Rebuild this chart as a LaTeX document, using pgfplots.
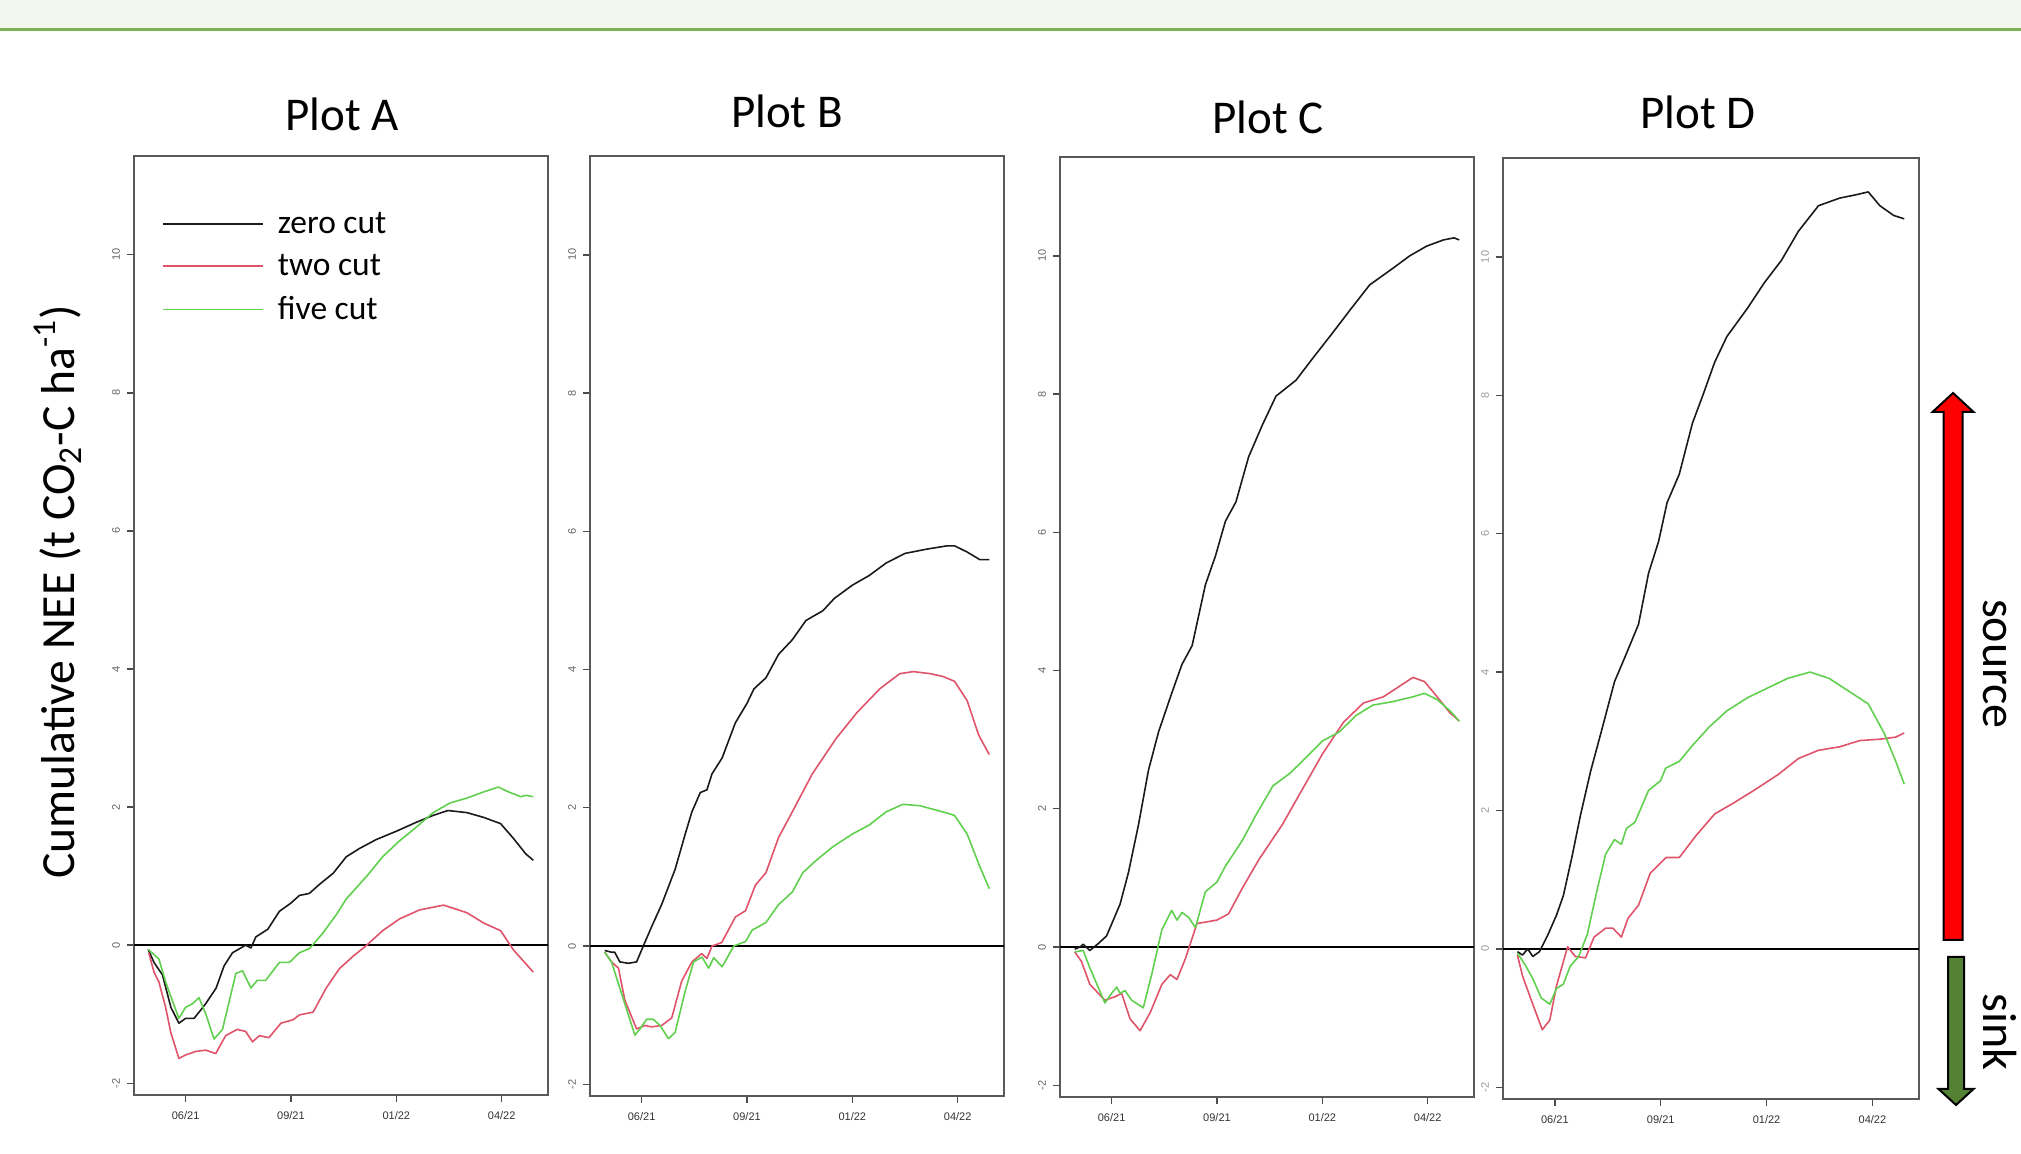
\documentclass[border=0pt]{standalone}
\usepackage{fontspec}
\setmainfont{Carlito}
\newfontfamily\tickfont{Liberation Sans}
\usepackage{pgfplots}
\pgfplotsset{compat=1.18}
\definecolor{zerocut}{HTML}{1A1A1A}
\definecolor{twocut}{HTML}{DF536B}
\definecolor{fivecut}{HTML}{61D04F}
\definecolor{bandgreen}{HTML}{F2F8EE}
\definecolor{rulegreen}{HTML}{7AB257}
\definecolor{sinkgreen}{HTML}{548235}

% x: 0 = 06/21, 1 = 09/21, 2 = 01/22, 3 = 04/22 (equally spaced ticks)
\pgfplotsset{
  nee panel/.style={
    scale only axis,
    anchor=south west,
    xmin=-0.49, xmax=3.44,
    ymin=-2.17, ymax=11.43,
    xtick={0,1,2,3},
    xticklabels={06/21,09/21,01/22,04/22},
    ytick={-2,0,2,4,6,8,10},
    yticklabels={-2,0,2,4,6,8,10},
    tick pos=left,
    tick align=outside,
    major tick length=3.5pt,
    axis line style={draw=black!65, line width=0.9pt},
    tick style={draw=black!70, line width=0.7pt},
    xticklabel style={font=\tickfont\fontsize{5.5}{6}\selectfont, text=black!80, yshift=-1pt},
    yticklabel style={font=\tickfont\fontsize{5.5}{6}\selectfont, text=black!60, rotate=90, anchor=south},
    every axis plot/.append style={line width=0.8pt, line join=round},
  },
  zero/.style={draw=zerocut},
  two/.style={draw=twocut},
  five/.style={draw=fivecut},
}
\newcommand{\zeroline}{\addplot[black, line width=0.7pt, forget plot] coordinates {(-0.6,0) (3.6,0)};}

\begin{document}
\begin{tikzpicture}
\path[use as bounding box] (0pt,0pt) rectangle (1010.5pt,577pt);
\fill[white] (0pt,0pt) rectangle (1010.5pt,577pt);
\fill[bandgreen] (0pt,562.5pt) rectangle (1010.5pt,577pt);
\draw[rulegreen, line width=1.5pt] (0pt,562pt) -- (1010.5pt,562pt);

% ---------------- Plot A
\begin{axis}[nee panel, at={(67pt,29.5pt)}, width=207pt, height=469.5pt,
  legend style={draw=none, fill=none, at={(0.068,0.945)}, anchor=north west,
    font=\fontsize{16.75}{20}\selectfont, inner sep=0pt, column sep=4.8pt, row sep=5pt},
  legend cell align=left,
  legend image code/.code={\draw[#1, line width=0.9pt] (0pt,0pt) -- (50pt,0pt);},
]
\zeroline
\addplot[zero] coordinates {(-0.356,-0.06) (-0.30,-0.25) (-0.22,-0.43) (-0.14,-0.90) (-0.064,-1.13) (0,-1.06) (0.08,-1.06) (0.19,-0.85) (0.29,-0.62) (0.365,-0.30) (0.445,-0.11) (0.57,0) (0.62,-0.04) (0.667,0.12) (0.78,0.23) (0.89,0.49) (1.0,0.61) (1.08,0.72) (1.175,0.75) (1.27,0.88) (1.40,1.04) (1.525,1.28) (1.65,1.40) (1.81,1.53) (2.0,1.65) (2.19,1.78) (2.35,1.88) (2.49,1.95) (2.67,1.92) (2.83,1.85) (2.99,1.76) (3.11,1.55) (3.23,1.32) (3.30,1.23)};
\addlegendentry{zero cut}
\addplot[two] coordinates {(-0.35,-0.11) (-0.30,-0.39) (-0.254,-0.53) (-0.19,-0.90) (-0.14,-1.27) (-0.064,-1.64) (0,-1.59) (0.095,-1.54) (0.19,-1.52) (0.286,-1.57) (0.38,-1.31) (0.49,-1.22) (0.57,-1.25) (0.635,-1.40) (0.70,-1.31) (0.79,-1.34) (0.905,-1.13) (1.02,-1.08) (1.08,-1.01) (1.21,-0.97) (1.335,-0.62) (1.46,-0.34) (1.59,-0.16) (1.72,0) (1.87,0.21) (2.03,0.38) (2.22,0.51) (2.45,0.58) (2.67,0.47) (2.83,0.32) (2.99,0.21) (3.11,-0.065) (3.30,-0.39)};
\addlegendentry{two cut}
\addplot[five] coordinates {(-0.356,-0.06) (-0.254,-0.20) (-0.19,-0.53) (-0.127,-0.80) (-0.064,-1.06) (0,-0.90) (0.064,-0.85) (0.127,-0.76) (0.19,-0.99) (0.27,-1.36) (0.35,-1.22) (0.43,-0.71) (0.477,-0.41) (0.54,-0.37) (0.62,-0.62) (0.68,-0.51) (0.76,-0.51) (0.89,-0.25) (0.985,-0.25) (1.08,-0.11) (1.175,-0.05) (1.30,0.17) (1.43,0.44) (1.525,0.67) (1.72,1.00) (1.87,1.28) (2.03,1.51) (2.19,1.71) (2.35,1.92) (2.51,2.06) (2.67,2.13) (2.83,2.22) (2.97,2.29) (3.05,2.23) (3.18,2.15) (3.23,2.17) (3.30,2.15)};
\addlegendentry{five cut}
\end{axis}

% ---------------- Plot B
\begin{axis}[nee panel, at={(295pt,29pt)}, width=207pt, height=470pt]
\zeroline
\addplot[zero] coordinates {(-0.35,-0.065) (-0.286,-0.09) (-0.255,-0.09) (-0.207,-0.23) (-0.127,-0.25) (-0.048,-0.23) (0.016,0) (0.095,0.28) (0.19,0.60) (0.318,1.11) (0.414,1.62) (0.477,1.94) (0.557,2.22) (0.62,2.26) (0.668,2.49) (0.764,2.72) (0.89,3.23) (1.0,3.51) (1.066,3.72) (1.18,3.88) (1.30,4.22) (1.43,4.43) (1.56,4.71) (1.72,4.85) (1.83,5.03) (2.0,5.22) (2.16,5.36) (2.32,5.54) (2.50,5.68) (2.70,5.74) (2.90,5.79) (2.97,5.79) (3.09,5.70) (3.21,5.59) (3.30,5.59)};
\addplot[two] coordinates {(-0.35,-0.09) (-0.286,-0.23) (-0.22,-0.32) (-0.16,-0.78) (-0.048,-1.20) (0.032,-1.15) (0.095,-1.17) (0.19,-1.15) (0.286,-1.04) (0.38,-0.51) (0.477,-0.23) (0.57,-0.11) (0.62,-0.18) (0.668,0) (0.76,0.05) (0.89,0.42) (0.986,0.51) (1.08,0.88) (1.18,1.06) (1.30,1.57) (1.43,1.94) (1.62,2.49) (1.845,3.0) (2.04,3.37) (2.26,3.72) (2.45,3.94) (2.58,3.97) (2.74,3.94) (2.86,3.90) (2.97,3.83) (3.09,3.55) (3.20,3.05) (3.30,2.77)};
\addplot[five] coordinates {(-0.35,-0.09) (-0.286,-0.23) (-0.19,-0.69) (-0.064,-1.29) (-0.016,-1.20) (0.048,-1.06) (0.111,-1.06) (0.175,-1.15) (0.255,-1.34) (0.318,-1.25) (0.414,-0.65) (0.493,-0.23) (0.573,-0.16) (0.636,-0.32) (0.684,-0.17) (0.764,-0.30) (0.875,0) (0.986,0.065) (1.05,0.23) (1.18,0.34) (1.30,0.60) (1.43,0.78) (1.53,1.06) (1.65,1.23) (1.81,1.43) (2.0,1.62) (2.16,1.75) (2.32,1.94) (2.48,2.05) (2.64,2.03) (2.86,1.94) (2.97,1.89) (3.09,1.62) (3.21,1.15) (3.30,0.83)};
\end{axis}

% ---------------- Plot C
\begin{axis}[nee panel, at={(530pt,28.5pt)}, width=207pt, height=470pt]
\zeroline
\addplot[zero] coordinates {(-0.35,-0.03) (-0.30,0) (-0.27,0.04) (-0.207,-0.05) (-0.127,0.05) (-0.048,0.16) (0.016,0.39) (0.08,0.62) (0.16,1.08) (0.255,1.77) (0.35,2.56) (0.445,3.11) (0.57,3.67) (0.668,4.09) (0.764,4.36) (0.89,5.24) (0.986,5.66) (1.08,6.16) (1.18,6.44) (1.30,7.09) (1.43,7.55) (1.56,7.97) (1.75,8.20) (1.91,8.52) (2.10,8.89) (2.26,9.21) (2.45,9.58) (2.67,9.82) (2.83,10.0) (2.99,10.14) (3.15,10.23) (3.25,10.26) (3.30,10.23)};
\addplot[two] coordinates {(-0.35,-0.07) (-0.286,-0.21) (-0.207,-0.54) (-0.064,-0.77) (0.032,-0.72) (0.095,-0.67) (0.175,-1.04) (0.27,-1.21) (0.366,-0.95) (0.477,-0.54) (0.557,-0.40) (0.62,-0.47) (0.70,-0.17) (0.81,0.34) (0.89,0.36) (1.0,0.39) (1.11,0.48) (1.24,0.85) (1.40,1.27) (1.62,1.77) (1.81,2.28) (2.0,2.79) (2.20,3.25) (2.39,3.53) (2.58,3.62) (2.77,3.81) (2.86,3.90) (2.97,3.84) (3.09,3.62) (3.21,3.39) (3.30,3.27)};
\addplot[five] coordinates {(-0.35,-0.07) (-0.27,-0.05) (-0.207,-0.30) (-0.064,-0.81) (0,-0.67) (0.048,-0.58) (0.08,-0.67) (0.127,-0.63) (0.19,-0.77) (0.30,-0.88) (0.38,-0.40) (0.477,0.25) (0.57,0.53) (0.62,0.39) (0.668,0.50) (0.73,0.43) (0.795,0.28) (0.89,0.80) (1.0,0.94) (1.08,1.17) (1.24,1.54) (1.37,1.91) (1.53,2.33) (1.69,2.51) (1.845,2.74) (2.0,2.98) (2.16,3.11) (2.32,3.35) (2.48,3.50) (2.67,3.55) (2.86,3.62) (2.97,3.67) (3.09,3.58) (3.21,3.42) (3.30,3.27)};
\end{axis}

% ---------------- Plot D
\begin{axis}[nee panel, at={(751.5pt,27.5pt)}, width=208pt, height=470.5pt,
  yticklabel style={text=black!40}]
\zeroline
\addplot[zero] coordinates {(-0.354,-0.04) (-0.306,-0.09) (-0.257,0) (-0.209,-0.11) (-0.145,-0.04) (-0.064,0.21) (0.016,0.49) (0.08,0.77) (0.16,1.32) (0.24,1.92) (0.338,2.57) (0.435,3.12) (0.563,3.86) (0.66,4.21) (0.79,4.69) (0.885,5.43) (0.98,5.89) (1.06,6.45) (1.175,6.86) (1.30,7.60) (1.40,8.01) (1.51,8.48) (1.625,8.85) (1.82,9.26) (1.98,9.63) (2.14,9.95) (2.30,10.37) (2.49,10.74) (2.69,10.85) (2.85,10.90) (2.96,10.94) (3.07,10.74) (3.20,10.60) (3.30,10.55)};
\addplot[two] coordinates {(-0.354,-0.09) (-0.306,-0.39) (-0.209,-0.80) (-0.119,-1.17) (-0.048,-1.03) (0.016,-0.53) (0.12,0.03) (0.193,-0.11) (0.29,-0.13) (0.37,0.17) (0.48,0.30) (0.547,0.30) (0.628,0.17) (0.69,0.44) (0.79,0.63) (0.90,1.09) (1.05,1.32) (1.175,1.32) (1.335,1.64) (1.51,1.95) (1.69,2.11) (1.88,2.29) (2.11,2.52) (2.30,2.75) (2.49,2.87) (2.69,2.92) (2.88,3.01) (3.07,3.03) (3.22,3.06) (3.30,3.12)};
\addplot[five] coordinates {(-0.354,-0.06) (-0.274,-0.25) (-0.209,-0.43) (-0.129,-0.71) (-0.048,-0.80) (0.016,-0.57) (0.08,-0.51) (0.145,-0.25) (0.225,-0.11) (0.306,0.21) (0.40,0.86) (0.48,1.37) (0.563,1.58) (0.628,1.51) (0.676,1.74) (0.756,1.83) (0.885,2.29) (0.998,2.43) (1.046,2.61) (1.175,2.71) (1.30,2.94) (1.46,3.21) (1.625,3.44) (1.82,3.63) (2.01,3.77) (2.20,3.91) (2.41,4.00) (2.59,3.91) (2.78,3.72) (2.96,3.54) (3.11,3.12) (3.22,2.71) (3.30,2.38)};
\end{axis}

% titles and axis label
\begin{scope}[every node/.style={font=\fontsize{23.5}{28}\selectfont, anchor=base}]
\node at (171pt,511.5pt) {Plot A};
\node at (393.5pt,513pt) {Plot B};
\node at (634pt,510pt) {Plot C};
\node at (849pt,512.5pt) {Plot D};
\end{scope}
\node[rotate=90, font=\fontsize{23.8}{28}\selectfont] at (29pt,281pt)
  {Cumulative NEE (t CO\textsubscript{2}-C ha\textsuperscript{-1})};

% source / sink arrows
\filldraw[fill=red, draw=black, line width=1pt]
  (971.75pt,107pt) -- (971.75pt,371pt) -- (966.25pt,371pt) -- (976.5pt,380.5pt)
  -- (986.75pt,371pt) -- (981.25pt,371pt) -- (981.25pt,107pt) -- cycle;
\filldraw[fill=sinkgreen, draw=black, line width=1pt]
  (974pt,98.5pt) -- (974pt,32.5pt) -- (969.25pt,32.5pt) -- (978pt,24.5pt)
  -- (986.75pt,32.5pt) -- (982pt,32.5pt) -- (982pt,98.5pt) -- cycle;
\node[rotate=-90, anchor=base, font=\fontsize{24}{28}\selectfont] at (991.5pt,245pt) {source};
\node[rotate=-90, anchor=base, font=\fontsize{24}{28}\selectfont] at (991.5pt,61pt) {sink};
\end{tikzpicture}
\end{document}
